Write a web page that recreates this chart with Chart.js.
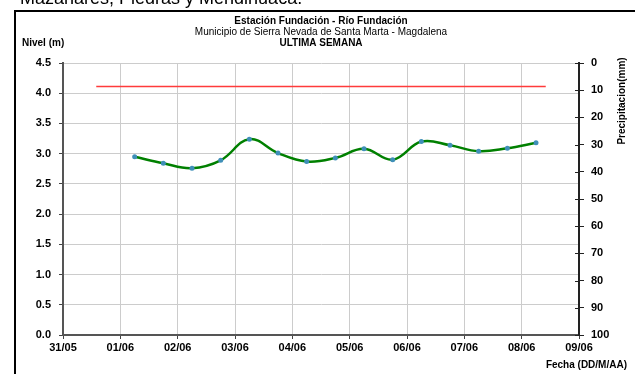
<!DOCTYPE html>
<html>
<head>
<meta charset="utf-8">
<script src="https://cdn.jsdelivr.net/npm/chart.js@4.4.1/dist/chart.umd.min.js"></script>
<style>
  html, body { margin: 0; padding: 0; background: #fff; overflow: hidden; }
  #wrap { position: relative; width: 635px; height: 374px; }
</style>
</head>
<body>
<div id="wrap"><canvas id="nivelChart" width="635" height="374"></canvas></div>
<script>
// Eje X: días (31/05 = 0)
const dayLabels = ['31/05', '01/06', '02/06', '03/06', '04/06', '05/06', '06/06', '07/06', '08/06', '09/06'];

// Lecturas de nivel (dos por día, 06:00 y 18:00)
const sampleDays = [1.25, 1.75, 2.25, 2.75, 3.25, 3.75, 4.25, 4.75, 5.25, 5.75, 6.25, 6.75, 7.25, 7.75, 8.25];
const nivel = [2.95, 2.84, 2.76, 2.89, 3.24, 3.01, 2.87, 2.93, 3.08, 2.90, 3.20, 3.14, 3.04, 3.09, 3.18];

// Línea roja de referencia
const umbralDays = [0.58, 8.42];
const umbral = [4.11, 4.11];

const font = 'Arial, "Liberation Sans", sans-serif';
const tickFont = { family: font, size: 11, weight: 'bold' };

const textPlugin = {
    id: 'textos',
    afterDraw(chart) {
        const c = chart.ctx;
        c.save();
        // recorte del texto de la página superior
        c.fillStyle = '#000';
        c.font = '18px ' + font;
        c.textAlign = 'left';
        c.textBaseline = 'alphabetic';
        c.fillText('Mazanares, Piedras y Mendihuaca.', 20, 4);

        // marco
        c.strokeStyle = '#000';
        c.lineWidth = 2;
        c.beginPath();
        c.moveTo(15, 380);
        c.lineTo(15, 11);
        c.lineTo(640, 11);
        c.stroke();

        // marcas interiores del eje derecho (cruzan el eje)
        const s2 = chart.scales.y2;
        c.strokeStyle = '#222';
        c.lineWidth = 1;
        s2.ticks.forEach(t => {
            const py = Math.round(s2.getPixelForValue(t.value)) + 0.5;
            c.beginPath();
            c.moveTo(s2.left - 4, py);
            c.lineTo(s2.left, py);
            c.stroke();
        });

        const cx = (chart.chartArea.left + chart.chartArea.right) / 2;
        c.fillStyle = '#000';
        c.textAlign = 'center';
        c.textBaseline = 'middle';
        c.font = 'bold 10px ' + font;
        c.fillText('Estación Fundación - Río Fundación', cx, 21);
        c.font = '10px ' + font;
        c.fillText('Municipio de Sierra Nevada de Santa Marta - Magdalena', cx, 32);
        c.font = 'bold 10px ' + font;
        c.fillText('ULTIMA SEMANA', cx, 43);

        c.textAlign = 'left';
        c.fillText('Nivel (m)', 22, 43);

        c.textAlign = 'right';
        c.fillText('Fecha (DD/M/AA)', 627, 365);

        c.translate(622, 101);
        c.rotate(-Math.PI / 2);
        c.textAlign = 'center';
        c.fillText('Precipitacion(mm)', 0, 0);
        c.restore();
    }
};

new Chart(document.getElementById('nivelChart'), {
    type: 'line',
    data: {
        datasets: [{
            label: 'Umbral',
            data: umbralDays.map((d, i) => ({ x: d, y: umbral[i] })),
            borderColor: '#ff3b3b',
            borderWidth: 1.5,
            pointRadius: 0,
            tension: 0
        }, {
            label: 'Nivel',
            data: sampleDays.map((d, i) => ({ x: d, y: nivel[i] })),
            borderColor: '#008000',
            borderWidth: 2.5,
            pointRadius: 2.5,
            pointBackgroundColor: '#3f8fb8',
            pointBorderColor: '#3f8fb8',
            pointBorderWidth: 0,
            tension: 0.4,
            cubicInterpolationMode: 'default'
        }]
    },
    options: {
        responsive: false,
        animation: false,
        layout: { padding: { top: 63, left: 0, right: 0, bottom: 0 } },
        plugins: {
            legend: { display: false },
            tooltip: { enabled: false }
        },
        scales: {
            x: {
                type: 'linear',
                min: 0,
                max: 9,
                afterFit: s => { s.height = 39; },
                ticks: {
                    stepSize: 1,
                    font: tickFont,
                    color: '#000',
                    padding: 2,
                    maxRotation: 0,
                    callback: v => dayLabels[v]
                },
                grid: { color: '#cccccc', tickColor: '#444', tickLength: 4 },
                border: { color: '#555', width: 2 }
            },
            y: {
                min: 0,
                max: 4.5,
                afterFit: s => { s.width = 63; },
                ticks: {
                    stepSize: 0.5,
                    font: tickFont,
                    color: '#000',
                    padding: 8,
                    callback: v => v.toFixed(1)
                },
                grid: { color: '#cccccc', tickColor: '#444', tickLength: 4 },
                border: { color: '#555', width: 2 }
            },
            y2: {
                position: 'right',
                min: 0,
                max: 100,
                reverse: true,
                afterFit: s => { s.width = 56; },
                ticks: {
                    stepSize: 10,
                    font: tickFont,
                    color: '#000',
                    padding: 7
                },
                grid: { drawOnChartArea: false, tickColor: '#222', tickLength: 5 },
                border: { color: '#222', width: 2 }
            }
        }
    },
    plugins: [textPlugin]
});
</script>
</body>
</html>
